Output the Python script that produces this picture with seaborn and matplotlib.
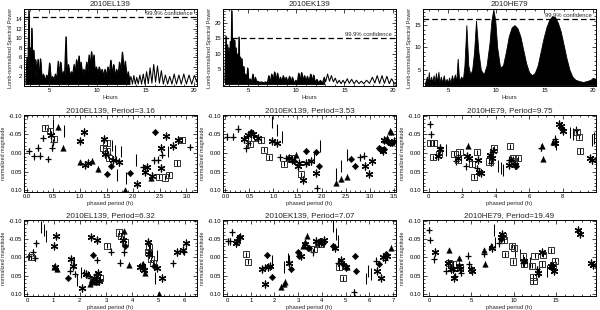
import numpy as np
import pandas as pd
import matplotlib
matplotlib.use("Agg")
import matplotlib.pyplot as plt
import seaborn as sns
from matplotlib.ticker import MultipleLocator, FixedLocator, FormatStrFormatter

# ---------------- periodogram data ----------------
el_hours = [2.6, 2.7, 2.8, 2.9, 2.97, 3.05, 3.12, 3.2, 3.3, 3.4, 3.5, 3.6, 3.7, 3.85, 3.95, 4.1, 4.25, 4.4,
            4.6, 4.75, 4.9, 5.05, 5.2, 5.35, 5.5, 5.65, 5.8, 5.95, 6.05, 6.2, 6.35, 6.5, 6.6, 6.75, 6.85, 7.0,
            7.15, 7.3, 7.45, 7.6, 7.7, 7.85, 7.95, 8.1, 8.2, 8.3, 8.45, 8.6, 8.75, 8.9, 9.0, 9.15, 9.25, 9.4,
            9.5, 9.65, 9.75, 9.9, 10.05, 10.2, 10.35, 10.5, 10.65, 10.8, 10.95, 11.1, 11.25, 11.4, 11.55, 11.7,
            11.85, 12.0, 12.15, 12.3, 12.45, 12.6, 12.75, 12.9, 13.05, 13.2, 13.35,
            13.5, 13.65, 13.8, 13.95, 14.1, 14.25, 14.42, 14.6, 14.77, 14.95, 15.12, 15.3, 15.48, 15.67,
            15.86, 16.05, 16.25, 16.45, 16.65, 16.86, 17.07, 17.3, 17.52, 17.75, 17.98, 18.22, 18.47, 18.72,
            18.98, 19.25, 19.52, 19.8, 20.08, 20.35]
el_power = [0.5, 6.0, 3.0, 15.8, 3.0, 8.0, 4.0, 12.1, 3.0, 7.5, 2.0, 5.5, 2.0, 5.6, 1.5, 5.7, 1.5, 2.5,
            1.2, 2.3, 1.5, 4.8, 1.2, 2.0, 1.2, 2.5, 1.5, 5.2, 2.0, 5.0, 2.0, 3.0, 2.0, 10.3, 2.5, 4.5,
            2.0, 3.0, 2.5, 4.5, 2.5, 5.5, 3.0, 6.3, 3.0, 5.0, 2.5, 3.5, 2.5, 5.0, 3.0, 6.5, 4.0, 7.2,
            4.0, 6.5, 3.0, 4.0, 2.5, 4.0, 2.5, 3.5, 2.0, 3.5, 2.0, 4.0, 2.5, 5.4, 2.5, 4.5,
            2.0, 3.5, 2.0, 5.0, 3.0, 7.1, 3.0, 5.2, 1.5, 3.0, 0.8,
            2.0, 0.4, 2.2, 0.4, 1.8, 0.4, 2.3, 0.4, 2.5, 0.4, 3.0, 0.5, 3.8, 0.6,
            4.5, 0.8, 4.2, 0.6, 3.2, 0.4, 2.3, 0.4, 2.0, 0.4, 2.5, 0.4, 2.3, 0.4,
            2.5, 0.4, 2.3, 0.4, 2.2, 0.8]

ek_hours = [2.6, 2.7, 2.78, 2.85, 2.93, 3.0, 3.08, 3.15, 3.22, 3.3, 3.37, 3.45, 3.52, 3.6, 3.68, 3.75,
            3.83, 3.9, 3.97, 4.05, 4.12, 4.2, 4.28, 4.35, 4.45, 4.55, 4.65, 4.75, 4.85, 4.95, 5.05, 5.2,
            5.35, 5.5, 5.6, 5.75, 5.85, 6.0, 6.2, 6.4, 6.6, 6.8, 7.0, 7.15, 7.3, 7.45, 7.6, 7.75, 7.9,
            8.05, 8.2, 8.35, 8.5, 8.65, 8.8, 8.95, 9.1, 9.3, 9.45, 9.6, 9.75, 9.95, 10.1, 10.25, 10.4,
            10.55, 10.7, 10.85, 11.0, 11.15, 11.3, 11.5, 11.65, 11.8, 11.95, 12.15, 12.3, 12.5, 12.7,
            12.9, 13.05, 13.25, 13.45, 13.65, 13.85, 14.05, 14.25, 14.45, 14.65, 14.85, 15.05, 15.3,
            15.5, 15.75, 16.0, 16.25, 16.5, 16.75, 17.0, 17.3, 17.6, 17.9, 18.15, 18.4, 18.65, 18.9,
            19.15, 19.4, 19.65, 19.9, 20.2, 20.35]
ek_power = [1.0, 15.8, 2.0, 13.0, 3.0, 12.0, 2.0, 14.0, 3.0, 24.0, 3.0, 15.0, 2.0, 14.5, 2.0, 12.0,
            2.0, 10.0, 2.0, 15.5, 2.0, 9.0, 1.5, 8.5, 1.5, 6.0, 1.0, 3.5, 0.8, 5.5, 0.8, 2.0,
            0.8, 3.5, 0.8, 2.5, 1.0, 1.2, 0.8, 1.0, 0.7, 1.0, 0.7, 3.0, 0.8, 3.5, 1.5, 4.2, 1.5,
            3.8, 1.0, 2.5, 1.0, 3.0, 1.0, 2.5, 0.8, 2.8, 0.8, 2.5, 0.6, 1.5, 0.8, 3.8, 1.5,
            4.0, 1.5, 3.0, 1.0, 2.8, 1.0, 3.5, 1.2, 3.2, 0.8, 1.8, 0.5, 1.5, 0.5,
            2.5, 1.0, 3.5, 1.2, 3.0, 1.0, 2.2, 0.5, 1.5, 0.4, 1.5, 0.5, 2.0,
            0.5, 1.8, 0.4, 1.5, 0.4, 1.2, 0.4, 1.5, 0.5, 2.5, 0.6, 3.0, 0.5, 3.0,
            0.5, 2.8, 0.4, 2.0, 0.3, 0.5]

he_hours = [2.6, 2.8, 2.9, 3.0, 3.1, 3.25, 3.35, 3.5, 3.6, 3.75, 3.85, 4.0, 4.1, 4.25, 4.4, 4.55, 4.7,
            4.85, 5.0, 5.1, 5.25, 5.4, 5.55, 5.7, 5.85, 6.0, 6.15, 6.35, 6.55, 6.7, 6.9, 7.1, 7.3, 7.5,
            7.7, 7.9, 8.15, 8.4, 8.7, 9.0, 9.3, 9.5, 9.7, 9.9, 10.1, 10.4, 10.7, 11.0, 11.3, 11.6, 11.9,
            12.2, 12.5, 12.8, 13.1, 13.4, 13.7, 14.0, 14.3, 14.6, 14.9, 15.2, 15.5, 15.8, 16.1, 16.4,
            16.7, 17.0, 17.3, 17.6, 17.9, 18.2, 18.6, 19.0, 19.4, 19.8, 20.0, 20.35]
he_power = [2.0, 3.5, 2.0, 4.5, 2.2, 3.5, 2.2, 3.8, 2.2, 4.3, 2.2, 4.6, 2.2, 3.5, 2.2, 3.8, 2.2,
            3.0, 2.2, 3.3, 2.2, 3.8, 2.5, 4.0, 2.5, 7.5, 2.5, 3.5, 3.0, 6.0, 15.0, 6.0, 4.0, 5.0,
            9.0, 16.0, 9.0, 5.0, 4.0, 6.0, 11.0, 16.0, 18.5, 16.0, 10.0, 5.5, 6.0, 9.0, 12.5, 14.5, 15.0,
            14.3, 12.5, 9.5, 6.5, 4.5, 3.8, 4.3, 6.0, 9.0, 12.0, 14.5, 16.2, 17.0, 16.8, 15.5,
            13.5, 10.5, 7.5, 5.0, 3.5, 2.8, 2.5, 2.3, 2.5, 2.8, 3.2, 3.0]
he_base = 1.6

el_yticks = [2, 4, 6, 8, 10, 12, 14]
ek_yticks = [5, 10, 15, 20]
he_yticks = [5, 10, 15]
conf_levels = [14.4, 15.2, 16.3]

# ---------------- light-curve data ----------------
# point kinds: p plus, s square, a asterisk, t triangle, d diamond, b bar only
KINDS = ["p", "s", "a", "t", "d", "b"]

el316_phase = [0.04, 0.14, 0.22, 0.25, 0.31, 0.40, 0.49, 0.47, 1.52, 1.67, 2.19, 2.39, 2.47, 2.55, 3.07,
               0.34, 0.43, 0.51, 1.44, 1.50, 1.50, 1.54, 2.49, 2.59, 2.67, 2.83, 2.92,
               0.46, 1.00, 1.08, 1.10, 1.15, 1.46, 1.48, 1.62, 1.73, 2.07, 2.22, 2.27, 2.36, 2.52, 2.52, 2.61, 2.75, 2.84,
               0.59, 0.68, 1.00, 1.23, 1.34, 1.84, 2.33,
               1.50, 1.59, 1.94, 2.41,
               0.49, 0.70, 1.60, 1.66, 1.69, 1.78, 1.87, 2.05, 2.65]
el316_mag = [-0.005, 0.009, -0.014, 0.007, -0.040, 0.016, -0.029, -0.014, 0.004, 0.018, 0.038, 0.020, 0.018, 0.005, -0.016,
             -0.068, -0.059, -0.038, -0.014, -0.027, -0.005, 0.014, 0.064, 0.066, 0.059, 0.027, -0.035,
             -0.047, -0.032, -0.057, 0.032, 0.027, -0.038, 0.002, 0.018, 0.025, 0.084, 0.050, 0.038, 0.063, -0.014, 0.041, -0.045, -0.020, -0.036,
             -0.070, -0.014, 0.025, 0.021, 0.043, 0.100, 0.068,
             0.056, 0.034, 0.055, -0.056,
             -0.075, -0.059, -0.020, -0.005, 0.059, -0.004, 0.068, 0.018, -0.004]
el316_counts = [15, 12, 18, 7, 4, 9]

ek353_phase = [0.03, 0.15, 0.26, 0.43, 0.48, 1.14, 1.27, 1.90, 2.81, 2.89,
               0.51, 0.60, 0.74, 0.81, 0.90, 1.21, 1.36, 1.58,
               0.38, 0.46, 0.57, 0.67, 0.98, 1.07, 1.32, 1.39, 1.52, 1.53, 1.61, 1.68, 1.79, 1.89, 2.91, 2.99, 3.06, 3.27, 3.31, 3.50,
               1.46, 2.31, 2.41, 2.52, 3.32, 3.36, 3.43, 3.45,
               0.53, 1.43, 1.68, 1.88, 1.94, 2.62, 2.70, 3.19, 3.22, 3.26, 3.29, 3.38, 3.43, 3.46,
               0.97, 1.07, 1.17, 1.84, 1.96, 2.31, 2.41, 2.52]
ek353_mag = [-0.044, -0.044, -0.065, -0.012, -0.027, 0.012, 0.014, 0.095, 0.012, 0.007,
             -0.025, -0.041, -0.034, -0.009, 0.012, 0.029, 0.015, 0.057,
             -0.038, -0.047, -0.050, -0.041, -0.032, -0.027, 0.014, 0.018, 0.036, 0.027, 0.073, 0.027, 0.023, 0.055, 0.036, 0.056, 0.023, -0.005, -0.035, -0.032,
             0.005, 0.080, 0.070, 0.064, -0.036, -0.041, -0.059, -0.055,
             -0.055, 0.023, -0.005, -0.002, 0.036, 0.015, 0.035, -0.014, -0.010, -0.008, -0.010, -0.029, -0.027, -0.027,
             -0.084, -0.061, -0.044, 0.010, -0.018, 0.057, 0.034, 0.005]
ek353_counts = [10, 8, 20, 8, 14, 8]

he975_phase = [0.04, 0.14, 0.68, 1.63, 2.19, 2.88, 3.72, 4.77, 5.07, 6.70, 7.54, 8.79,
               0.08, 0.28, 0.24, 0.60, 1.53, 1.73, 1.83, 2.58, 2.72, 2.86, 3.62, 3.88, 4.87, 5.11, 5.35, 5.01, 8.83, 8.99, 9.03,
               0.64, 0.54, 1.73, 2.27, 2.37, 2.92, 3.02, 3.12, 3.68, 3.78, 3.82, 4.81, 5.17, 7.56, 7.79, 7.89, 7.99, 9.62, 9.74,
               2.33, 4.91, 6.76, 6.84, 7.44,
               5.21, 7.95,
               1.03, 4.10, 4.31, 4.45, 7.60, 8.43, 8.59, 9.74, 9.88]
he975_mag = [-0.077, -0.050, -0.016, 0.023, 0.036, 0.041, 0.027, 0.018, 0.027, -0.014, -0.038, -0.063,
             -0.027, -0.027, 0.012, 0.003, 0.002, 0.018, -0.002, 0.030, 0.064, -0.002, 0.023, -0.012, -0.018, 0.023, 0.014, 0.014, -0.056, -0.044, -0.005,
             -0.011, 0.009, 0.014, 0.009, 0.014, 0.018, 0.050, 0.053, 0.005, 0.014, -0.005, 0.032, 0.032, -0.027, -0.077, -0.073, -0.059, 0.014, 0.020,
             -0.020, 0.016, -0.020, 0.016, -0.030,
             0.036, -0.064,
             -0.007, 0.036, 0.041, 0.045, -0.023, -0.055, -0.052, -0.036, -0.041]
he975_counts = [12, 19, 19, 5, 2, 9]

el632_phase = [0.05, 0.21, 0.28, 0.34, 1.64, 1.81, 2.16, 2.39, 2.64, 2.60, 3.17, 3.55, 3.70, 4.45, 5.56, 5.98,
               0.13, 2.52, 2.77, 3.02, 3.48, 3.57, 3.71, 4.59, 4.65, 4.70, 4.78,
               1.01, 1.09, 1.06, 1.66, 1.74, 2.10, 2.23, 2.44, 2.54, 2.60, 2.67, 2.69, 2.75, 3.65, 4.28, 4.36, 4.43, 4.59, 4.65, 4.93, 5.12, 5.71, 5.94, 6.04,
               1.00, 1.13, 2.31, 2.39, 2.60, 3.67, 3.86, 4.40, 4.49, 5.03,
               1.53, 2.52, 2.48, 3.71, 4.83,
               0.53, 0.63, 0.72, 1.76, 1.91, 2.06, 4.68, 4.74, 4.87, 4.93]
el632_mag = [-0.005, -0.014, 0.002, -0.038, 0.036, 0.045, 0.041, 0.055, 0.007, 0.045, -0.016, 0.014, -0.014, 0.032, 0.016, -0.015,
             0.000, 0.064, 0.056, -0.032, -0.068, -0.059, -0.041, -0.016, -0.029, 0.005, 0.014,
             -0.032, -0.059, 0.027, 0.005, 0.023, 0.084, 0.044, -0.056, 0.055, 0.059, -0.047, 0.041, 0.064, -0.047, 0.027, 0.023, 0.035, -0.041, -0.009, 0.029, 0.057, -0.014, -0.020, -0.038,
             0.025, 0.032, 0.044, 0.071, 0.068, -0.071, 0.020, 0.018, 0.041, 0.100,
             0.055, -0.007, 0.066, -0.032, 0.023,
             -0.082, -0.075, -0.059, 0.014, 0.062, 0.041, -0.025, -0.014, 0.055, -0.005]
el632_counts = [16, 11, 24, 10, 5, 10]

ek707_phase = [0.04, 0.14, 0.22, 1.58, 3.61, 4.66, 4.73, 5.36, 6.27, 6.66,
               0.78, 0.88, 3.68, 3.82, 3.96, 4.70, 4.90,
               0.36, 0.42, 0.56, 1.48, 1.72, 1.82, 1.61, 2.63, 3.12, 3.30, 3.75, 3.89, 4.10, 4.56, 4.80, 5.00, 6.34, 6.48, 6.59, 6.76,
               2.28, 2.38, 2.46, 3.19, 3.30, 3.36, 5.07, 6.90,
               0.50, 1.69, 1.89, 2.70, 2.98, 3.05, 3.40, 3.47, 3.92, 4.03, 4.45, 4.87, 5.40, 5.43, 6.41, 6.69,
               1.90, 2.39, 2.56, 2.60, 4.45, 4.59, 4.66, 5.85, 5.94, 6.06]
ek707_mag = [-0.044, -0.044, -0.068, 0.027, -0.014, 0.014, 0.014, 0.095, 0.009, 0.007,
             -0.009, 0.012, -0.023, -0.036, -0.036, 0.027, 0.057,
             -0.038, -0.045, -0.056, 0.032, 0.027, 0.023, 0.073, 0.014, -0.005, -0.036, -0.045, -0.038, -0.047, -0.027, 0.007, 0.027, 0.036, 0.055, -0.002, -0.005,
             0.080, 0.073, 0.066, -0.032, -0.041, -0.059, 0.027, -0.027,
             -0.055, -0.006, 0.053, 0.032, -0.014, -0.005, -0.027, -0.027, -0.045, -0.038, -0.032, 0.018, -0.005, 0.036, 0.018, -0.009,
             0.009, 0.027, 0.005, 0.008, -0.086, -0.064, -0.045, 0.057, 0.036, 0.045]
ek707_counts = [10, 7, 20, 8, 16, 10]

he1949_phase = [0.00, 0.16, 0.54, 2.02, 3.12, 3.77, 4.55, 4.75, 6.50, 8.25, 11.05, 12.72, 14.55,
                2.41, 2.80, 3.66, 8.72, 8.83, 8.95, 9.80, 10.00, 9.88, 11.05, 11.25, 12.14, 12.22, 12.33, 12.45, 13.30, 13.50, 14.36, 14.67, 14.86,
                0.66, 2.22, 2.61, 2.88, 3.00, 3.58, 3.70, 4.94, 5.13, 7.39, 8.44, 8.56, 11.17, 12.84, 13.38, 14.40, 14.55, 14.78, 17.60, 17.80, 19.14, 19.34,
                2.41, 3.58, 6.50, 6.61, 7.28,
                8.44,
                7.67, 7.78, 10.10, 10.78, 11.95, 12.92, 13.90]
he1949_mag = [-0.075, -0.047, 0.005, 0.036, 0.050, 0.041, -0.005, 0.018, -0.009, -0.038, 0.014, 0.032, 0.032,
              0.014, 0.018, 0.027, -0.059, -0.047, -0.009, -0.032, -0.027, 0.011, -0.003, 0.018, 0.023, 0.053, 0.064, -0.005, 0.018, -0.007, -0.020, 0.020, 0.009,
              -0.016, 0.014, 0.032, 0.032, 0.055, 0.023, 0.032, 0.032, 0.036, -0.027, -0.056, -0.064, 0.009, 0.041, -0.014, 0.023, 0.027, 0.036, -0.075, -0.065, 0.014, 0.021,
              -0.020, 0.002, -0.020, 0.018, -0.032,
              -0.050,
              -0.075, -0.041, -0.018, -0.007, 0.014, 0.036, 0.036]
he1949_counts = [13, 20, 22, 5, 1, 7]

# ---------------- figure ----------------
sns.set_style("ticks")
plt.rcParams['font.family'] = ['Liberation Sans', 'DejaVu Sans']
plt.rcParams['axes.linewidth'] = 0.7

W, H = 600, 310
fig = plt.figure(figsize=(6, 3.1), dpi=100)
fig.patch.set_facecolor('white')

COL_LEFT = [24, 223, 423]
AX_W = 173
ROWS = [(9, 86), (115, 192), (220, 296)]


def make_ax(col, row):
    top, bottom = ROWS[row]
    left = COL_LEFT[col]
    return fig.add_axes([left / W, 1 - bottom / H, AX_W / W, (bottom - top) / H])


def style(ax):
    ax.tick_params(which='both', direction='in', top=True, right=True, width=0.5,
                   labelsize=4.2, pad=1.5, colors='black')
    ax.tick_params(which='major', length=3)
    ax.tick_params(which='minor', length=1.6)
    for s in ax.spines.values():
        s.set_linewidth(0.7)
        s.set_color('black')


def periodogram(ax, hours, power, fill_upto, base, name, conf, ylim, yticks, yminor, outline=True):
    hours = np.asarray(hours, float)
    power = np.asarray(power, float)
    keep = hours <= fill_upto
    ax.fill_between(hours[keep], base, power[keep], facecolor='black', edgecolor='black',
                    lw=0.6, zorder=1)
    if outline:
        sns.lineplot(x=hours, y=power, ax=ax, sort=False, estimator=None, color='black',
                     lw=0.75, zorder=2)
    ax.axhline(conf, color='black', lw=0.9, dashes=(4.5, 2.5), zorder=3)
    ax.annotate('99.9% confidence', xy=(19.9, conf), xytext=(0, 0.8), textcoords='offset points',
                ha='right', va='bottom', fontsize=4.2)
    ax.set_xlim(2.4, 20.35)
    ax.set_ylim(*ylim)
    ax.xaxis.set_major_locator(MultipleLocator(5))
    ax.xaxis.set_minor_locator(MultipleLocator(1))
    ax.yaxis.set_major_locator(FixedLocator(yticks))
    ax.yaxis.set_minor_locator(MultipleLocator(yminor))
    ax.set_title(name, fontsize=5.8, pad=2)
    ax.set_xlabel('Hours', fontsize=4.2, labelpad=1.5)
    ax.set_ylabel('Lomb-normalized Spectral Power', fontsize=3.9, labelpad=1.5, color='#222222')
    style(ax)


MARKERS = {
    'p': dict(marker='+', s=24, color='black', linewidth=0.9),
    's': dict(marker='s', s=19, facecolor='none', edgecolor='#333333', linewidth=0.7),
    'a': dict(marker=(6, 2, 0), s=24, color='black', linewidth=0.9),
    't': dict(marker='^', s=16, color='black', edgecolor='black', linewidth=0.3),
    'd': dict(marker='D', s=11, color='black', edgecolor='black', linewidth=0.3),
}
ERR = {'p': 0.009, 's': 0.007, 'a': 0.009, 't': 0.007, 'd': 0.007, 'b': 0.016}


def lightcurve(ax, phase, mag, counts, title, xlim, xmajor, xminor, fmt):
    kinds = np.repeat(KINDS, counts)
    df = pd.DataFrame(dict(phase=phase, mag=mag, kind=kinds))
    df['err'] = df['kind'].map(ERR)
    ax.errorbar(df['phase'], df['mag'], yerr=df['err'], fmt='none', ecolor='black',
                elinewidth=0.75, capsize=0)
    for k, kw in MARKERS.items():
        sub = df[df['kind'] == k]
        if sub.empty:
            continue
        sns.scatterplot(data=sub, x='phase', y='mag', ax=ax, legend=False, zorder=3, **kw)
    ax.set_xlim(*xlim)
    ax.set_ylim(0.105, -0.102)
    ax.xaxis.set_major_locator(MultipleLocator(xmajor))
    ax.xaxis.set_minor_locator(MultipleLocator(xminor))
    ax.xaxis.set_major_formatter(FormatStrFormatter(fmt))
    ax.yaxis.set_major_locator(MultipleLocator(0.05))
    ax.yaxis.set_minor_locator(MultipleLocator(0.01))
    ax.yaxis.set_major_formatter(FormatStrFormatter('%.2f'))
    ax.set_title(title, fontsize=5.8, pad=2)
    ax.set_xlabel('phased period (h)', fontsize=4.2, labelpad=1.5)
    ax.set_ylabel('normalized magnitude', fontsize=3.9, labelpad=1.5, color='#222222')
    style(ax)


# top row
ax = make_ax(0, 0)
periodogram(ax, el_hours, el_power, 13.35, 0.4, '2010EL139', conf_levels[0], (0.0, 16.1), el_yticks, 0.5)
ax = make_ax(1, 0)
periodogram(ax, ek_hours, ek_power, 13.0, 0.3, '2010EK139', conf_levels[1], (-0.35, 24.5), ek_yticks, 1)
ax = make_ax(2, 0)
periodogram(ax, he_hours, he_power, 20.5, he_base, '2010HE79', conf_levels[2], (1.4, 18.6), he_yticks, 1,
            outline=False)

# middle row
lightcurve(make_ax(0, 1), el316_phase, el316_mag, el316_counts, '2010EL139, Period=3.16',
           (-0.05, 3.2), 0.5, 0.1, '%.1f')
lightcurve(make_ax(1, 1), ek353_phase, ek353_mag, ek353_counts, '2010EK139, Period=3.53',
           (-0.05, 3.55), 0.5, 0.1, '%.1f')
lightcurve(make_ax(2, 1), he975_phase, he975_mag, he975_counts, '2010HE79, Period=9.75',
           (-0.35, 9.98), 2, 0.5, '%d')

# bottom row
lightcurve(make_ax(0, 2), el632_phase, el632_mag, el632_counts, '2010EL139, Period=6.32',
           (-0.13, 6.47), 1, 0.2, '%d')
lightcurve(make_ax(1, 2), ek707_phase, ek707_mag, ek707_counts, '2010EK139, Period=7.07',
           (-0.17, 7.12), 1, 0.2, '%d')
lightcurve(make_ax(2, 2), he1949_phase, he1949_mag, he1949_counts, '2010HE79, Period=19.49',
           (-0.7, 19.7), 5, 1, '%d')

fig.savefig('out.png', dpi=100, facecolor='white')
